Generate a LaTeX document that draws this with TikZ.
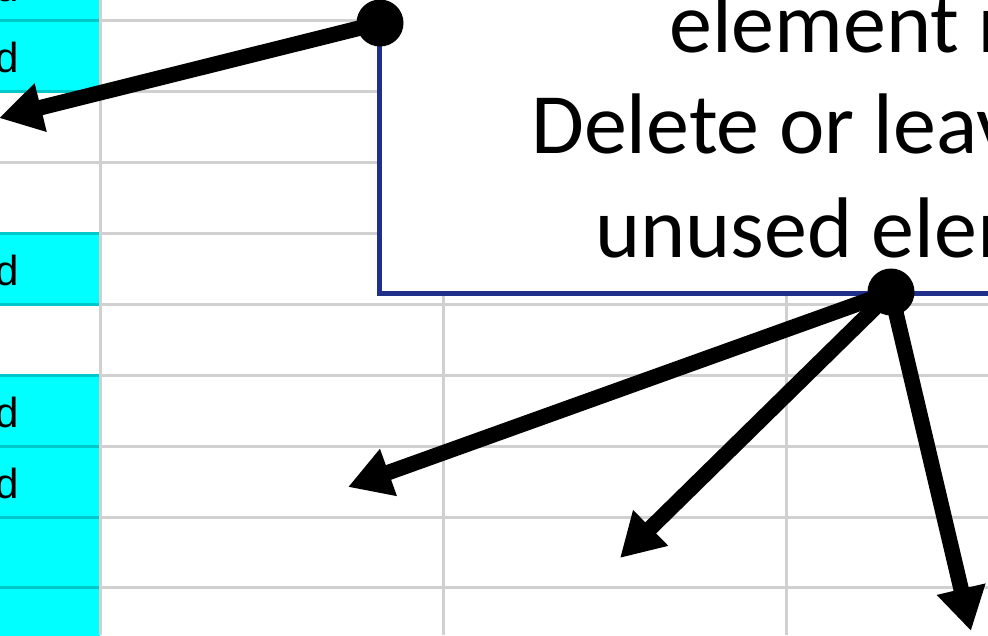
\documentclass[tikz,border=0pt]{standalone}
\usepackage{fontspec}
\setmainfont{Carlito}
\newfontfamily\arialfont{Liberation Sans}
\usetikzlibrary{arrows.meta}
\definecolor{gridgray}{RGB}{208,208,208}
\definecolor{gridteal}{RGB}{0,200,200}
\definecolor{cellcyan}{RGB}{0,255,255}
\definecolor{boxblue}{RGB}{31,47,138}
\tikzset{
  gridline/.style={draw=gridgray, line width=3pt},
  cyanline/.style={draw=gridteal, line width=3pt},
  cellfill/.style={fill=cellcyan},
  celltext/.style={font=\arialfont\fontsize{42}{42}\selectfont, anchor=base east, inner sep=0pt},
  boxtext/.style={font=\fontsize{86}{102}\selectfont, anchor=base west, inner sep=0pt},
  dotnode/.style={circle, fill=black, minimum size=47pt, inner sep=0pt},
  arr/.style={draw=black, line width=15.5pt, -{Triangle[length=43pt,width=47pt]}},
  callout/.style={draw=boxblue, line width=5pt, fill=white}
}
\begin{document}
\begin{tikzpicture}[x=1pt,y=-1pt]
\useasboundingbox (0,0) rectangle (988,635);
\clip (0,0) rectangle (988,635);
\fill[white] (0,0) rectangle (988,635);
% cyan cells
\foreach \t/\b in {-51/20, 20/91, 233/304, 375/446, 446/517, 517/587, 587/658}
  \fill[cellfill] (0,\t) rectangle (100,\b);
% horizontal grid lines
\foreach \y in {20,91,162,233,304,375,446,517,587}
  \draw[gridline] (100,\y) -- (988,\y);
\foreach \y in {20,91,233,304,375,446,517,587}
  \draw[cyanline] (0,\y) -- (100,\y);
\draw[gridline] (0,162) -- (100,162);
% vertical grid lines
\foreach \x in {100,443,786}
  \draw[gridline] (\x,0) -- (\x,635);
% cell texts
\node[celltext] (c0) at (19,1) {d};
\node[celltext] (c1) at (19,72) {d};
\node[celltext] (c2) at (19,285) {d};
\node[celltext] (c3) at (19,427) {d};
\node[celltext] (c4) at (19,498) {d};
% callout box
\draw[callout] (379,-10) rectangle (1000,293);
\node[boxtext] (l1) at (669,52) {element r};
\node[boxtext] (l2) at (531,153) {Delete or leave};
\node[boxtext] (l3) at (595,257) {unused elem};
% dots and arrows
\node[dotnode] (d1) at (380,23) {};
\node[dotnode] (d2) at (891,292) {};
\coordinate (t1) at (-1,118);
\coordinate (t2) at (348,487);
\coordinate (t3) at (620,558);
\coordinate (t4) at (971,631);
\draw[arr] (d1.center) -- (t1);
\draw[arr] (d2.center) -- (t2);
\draw[arr] (d2.center) -- (t3);
\draw[arr] (d2.center) -- (t4);
\end{tikzpicture}
\end{document}
